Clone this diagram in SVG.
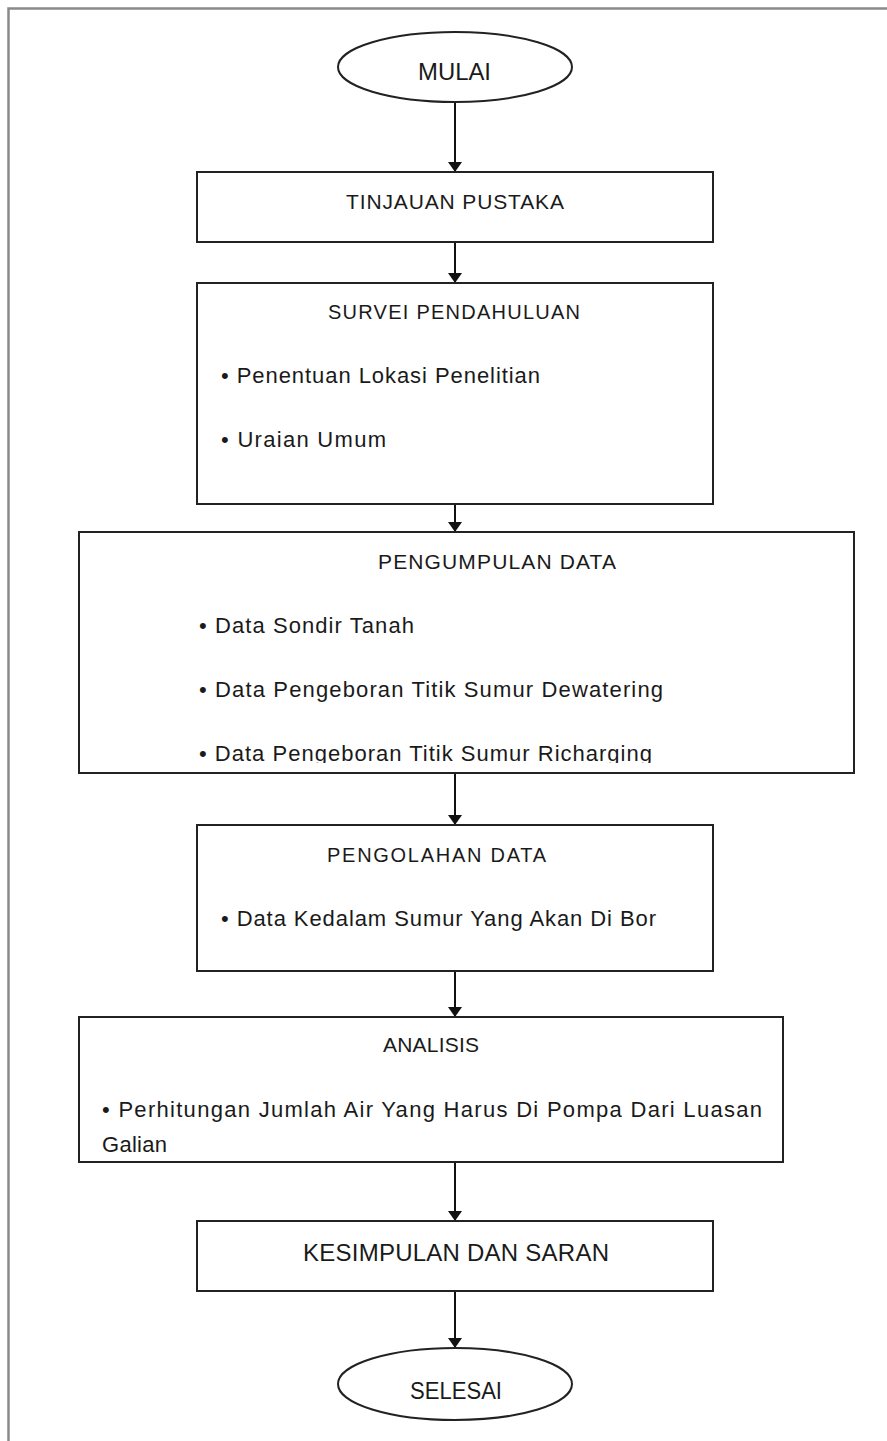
<svg xmlns="http://www.w3.org/2000/svg" width="887" height="1441" viewBox="0 0 887 1441">
<style>
.box{fill:#fff;stroke:#222;stroke-width:2}
.t{font-family:"Liberation Sans",Arial,sans-serif;fill:#1a1a1a}
.c{stroke:#111;stroke-width:2;fill:none}
.frame{stroke:#8a8a8a;stroke-width:2.5;fill:none}
</style>
<defs>
<marker id="ah" viewBox="0 0 10 14" refX="10" refY="7" markerWidth="10" markerHeight="14" markerUnits="userSpaceOnUse" orient="auto">
<path d="M0,0 L10,7 L0,14 Z" fill="#111"/>
</marker>
<clipPath id="clipPD"><rect x="79" y="532" width="775" height="231"/></clipPath>
<clipPath id="clipAN"><rect x="79" y="1017" width="704" height="136"/></clipPath>
</defs>
<rect width="887" height="1441" fill="#fff"/>
<path class="frame" d="M8.5,1441 V8.5 H887"/>
<g id="connectors">
<line class="c" x1="455" y1="102" x2="455" y2="172" marker-end="url(#ah)"/>
<line class="c" x1="455" y1="242" x2="455" y2="283" marker-end="url(#ah)"/>
<line class="c" x1="455" y1="504" x2="455" y2="532" marker-end="url(#ah)"/>
<line class="c" x1="455" y1="773" x2="455" y2="825" marker-end="url(#ah)"/>
<line class="c" x1="455" y1="971" x2="455" y2="1017" marker-end="url(#ah)"/>
<line class="c" x1="455" y1="1162" x2="455" y2="1221" marker-end="url(#ah)"/>
<line class="c" x1="455" y1="1291" x2="455" y2="1348" marker-end="url(#ah)"/>
</g>
<g id="mulai">
<ellipse class="box" cx="455" cy="67" rx="117" ry="35"/>
<text class="t" x="418" y="80" font-size="23" textLength="73" lengthAdjust="spacingAndGlyphs">MULAI</text>
</g>
<g id="tinjauan">
<rect class="box" x="197" y="172" width="516" height="70"/>
<text class="t" x="346" y="209" font-size="21" textLength="218" lengthAdjust="spacing">TINJAUAN PUSTAKA</text>
</g>
<g id="survei">
<rect class="box" x="197" y="283" width="516" height="221"/>
<text class="t" x="328" y="319" font-size="20" textLength="252" lengthAdjust="spacing">SURVEI PENDAHULUAN</text>
<text class="t" x="221" y="383" font-size="22" textLength="319" lengthAdjust="spacing">• Penentuan Lokasi Penelitian</text>
<text class="t" x="221" y="447" font-size="22" textLength="165" lengthAdjust="spacing">• Uraian Umum</text>
</g>
<g id="pengumpulan">
<rect class="box" x="79" y="532" width="775" height="241"/>
<text class="t" x="378" y="569" font-size="21" textLength="238" lengthAdjust="spacing">PENGUMPULAN DATA</text>
<text class="t" x="199" y="633" font-size="22" textLength="215" lengthAdjust="spacing">• Data Sondir Tanah</text>
<text class="t" x="199" y="697" font-size="22" textLength="464" lengthAdjust="spacing">• Data Pengeboran Titik Sumur Dewatering</text>
<text class="t" x="199" y="761" font-size="22" textLength="453" lengthAdjust="spacing" clip-path="url(#clipPD)">• Data Pengeboran Titik Sumur Richarging</text>
</g>
<g id="pengolahan">
<rect class="box" x="197" y="825" width="516" height="146"/>
<text class="t" x="327" y="862" font-size="20" textLength="219" lengthAdjust="spacing">PENGOLAHAN DATA</text>
<text class="t" x="221" y="926" font-size="22" textLength="435" lengthAdjust="spacing">• Data Kedalam Sumur Yang Akan Di Bor</text>
</g>
<g id="analisis">
<rect class="box" x="79" y="1017" width="704" height="145"/>
<text class="t" x="383" y="1052" font-size="21" textLength="96" lengthAdjust="spacing">ANALISIS</text>
<text class="t" x="102" y="1117" font-size="22" textLength="660" lengthAdjust="spacing">• Perhitungan Jumlah Air Yang Harus Di Pompa Dari Luasan</text>
<text class="t" x="102" y="1152" font-size="22" textLength="65" lengthAdjust="spacing" clip-path="url(#clipAN)">Galian</text>
</g>
<g id="kesimpulan">
<rect class="box" x="197" y="1221" width="516" height="70"/>
<text class="t" x="303" y="1261" font-size="24" textLength="306" lengthAdjust="spacing">KESIMPULAN DAN SARAN</text>
</g>
<g id="selesai">
<ellipse class="box" cx="455" cy="1384" rx="117" ry="36"/>
<text class="t" x="410" y="1399" font-size="24" textLength="92" lengthAdjust="spacingAndGlyphs">SELESAI</text>
</g>
</svg>
